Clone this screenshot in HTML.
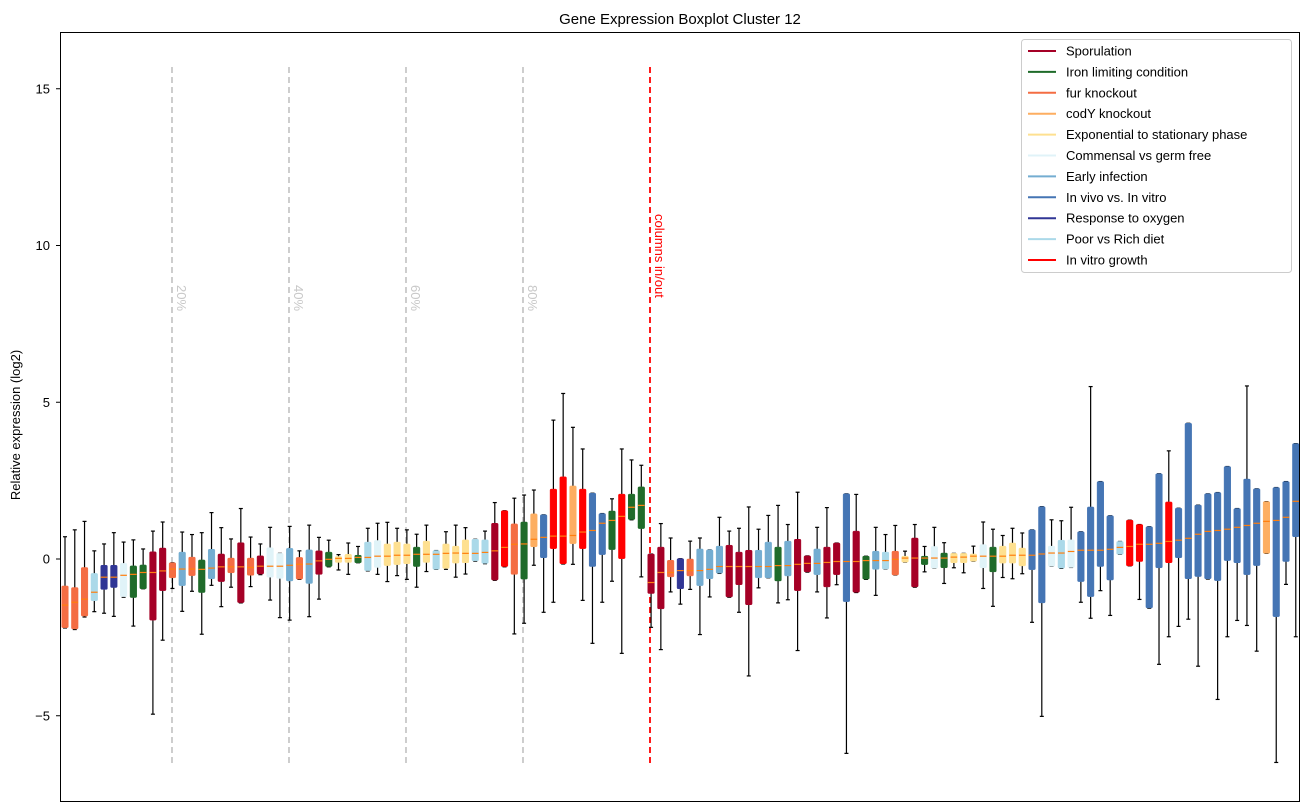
<!DOCTYPE html>
<html><head><meta charset="utf-8"><style>
body{margin:0;background:#fff;}
svg{display:block;font-family:"Liberation Sans","DejaVu Sans",sans-serif;}
</style></head><body>
<svg id="chart" width="1309" height="812" xmlns="http://www.w3.org/2000/svg">
<rect x="0" y="0" width="1309" height="812" fill="#fff"/>
<text x="680" y="24" text-anchor="middle" font-size="15">Gene Expression Boxplot Cluster 12</text>
<text transform="translate(20,425) rotate(-90)" text-anchor="middle" font-size="13">Relative expression (log2)</text>
<g id="marks"></g>
<rect x="60.5" y="32.5" width="1239" height="769" fill="none" stroke="#000" stroke-width="1"/>
<g id="axis"></g>
<g id="legend"></g>
</svg>
<script>
const groupNames=["Sporulation","Iron limiting condition","fur knockout","codY knockout","Exponential to stationary phase","Commensal vs germ free","Early infection","In vivo vs. In vitro","Response to oxygen","Poor vs Rich diet","In vitro growth"];
const groupColors=["#a50026","#1f6b2a","#f46d43","#fdae61","#fee090","#e0f3f8","#74add1","#4575b4","#313695","#abd9e9","#ff0000"];
const yTicks=[15,10,5,0,-5];
const pctLines=[20,40,60,80];
// categories: box group index per box (S=0,I=1,F=2,C=3,E=4,M=5,A=6,V=7,O=8,P=9,R=10)
const boxCat=[2,2,2,9,8,8,5,1,1,0,0,2,6,2,1,6,0,2,0,2,
0,5,5,6,2,6,0,1,4,4,1,9,5,4,4,4,1,4,9,4,
4,4,9,9,0,10,2,1,3,7,10,10,3,10,7,7,1,10,1,1,
0,0,2,8,2,6,6,6,0,0,0,6,6,1,6,0,0,6,0,0,
7,0,1,6,9,2,4,0,1,5,1,4,4,4,5,1,4,4,4,7,
7,5,9,5,7,7,7,7,9,10,10,7,7,10,7,7,7,7,7,7,
7,7,7,3,7,7,7];
const whiskerHigh=[0.71,0.93,1.20,0.26,0.48,0.84,0.54,0.61,0.32,0.89,1.18,-0.12,0.86,0.78,0.84,1.48,1.00,0.64,1.61,0.70,
0.48,1.01,0.18,1.04,0.26,1.08,0.69,0.60,0.14,0.51,0.40,0.98,1.14,1.17,0.98,0.93,0.79,1.08,0.27,0.87,
1.08,1.00,0.63,0.89,1.80,1.54,1.94,2.04,2.20,1.41,4.43,5.28,4.20,3.51,2.10,1.45,1.92,3.51,3.16,2.99,
0.16,1.13,0.67,0.01,0.57,0.67,0.29,1.33,0.89,0.98,1.66,0.95,1.39,1.71,1.10,2.13,0.10,1.01,1.64,0.51,
2.08,2.06,0.09,1.01,0.78,1.07,0.25,1.10,0.40,1.01,0.52,0.18,0.18,0.41,1.18,0.95,0.75,0.98,0.83,0.93,
1.67,1.25,1.22,1.65,0.87,5.50,2.47,1.38,0.56,1.24,1.10,1.03,2.72,3.45,1.62,4.33,1.72,2.08,2.12,2.95,
1.61,5.52,2.24,1.83,2.28,2.47,3.68];
const q3=[-0.86,-0.91,-0.27,-0.46,-0.20,-0.20,-0.14,-0.22,-0.19,0.23,0.35,-0.12,0.22,0.06,-0.03,0.31,0.16,0.03,0.52,0.03,
0.10,0.36,0.18,0.34,0.05,0.29,0.26,0.22,0.08,0.15,0.12,0.54,0.59,0.48,0.54,0.48,0.38,0.57,0.27,0.48,
0.41,0.61,0.63,0.61,1.14,1.54,1.12,1.18,1.44,1.41,2.23,2.62,2.33,2.23,2.10,1.45,1.53,2.07,2.07,2.30,
0.16,0.38,-0.04,0.01,0.00,0.32,0.29,0.41,0.44,0.22,0.28,0.28,0.54,0.38,0.57,0.63,0.10,0.32,0.38,0.51,
2.08,0.89,0.09,0.25,0.22,0.25,0.09,0.67,0.09,0.40,0.19,0.18,0.18,0.16,0.46,0.38,0.41,0.51,0.35,0.93,
1.67,0.41,0.60,0.61,0.87,1.66,2.47,1.38,0.56,1.24,1.10,1.03,2.72,1.82,1.62,4.33,1.72,2.08,2.12,2.95,
1.61,2.55,2.24,1.83,2.28,2.47,3.68];
const medians=[-1.47,-1.38,-1.28,-1.06,-0.58,-0.58,-0.52,-0.49,-0.43,-0.43,-0.38,-0.32,-0.32,-0.32,-0.33,-0.29,-0.25,-0.25,-0.25,-0.27,
-0.23,-0.23,-0.23,-0.20,-0.17,-0.16,-0.06,-0.01,0.02,0.02,0.05,0.05,0.09,0.09,0.12,0.12,0.15,0.15,0.15,0.18,
0.19,0.18,0.18,0.21,0.26,0.37,0.47,0.48,0.63,0.69,0.73,0.73,0.75,0.86,0.91,1.14,1.23,1.36,1.65,1.71,
-0.75,-0.43,-0.43,-0.37,-0.37,-0.37,-0.33,-0.24,-0.24,-0.24,-0.24,-0.24,-0.24,-0.21,-0.21,-0.17,-0.14,-0.14,-0.11,-0.08,
-0.08,-0.08,-0.05,-0.05,-0.05,-0.01,0.03,0.03,0.03,0.03,0.03,0.06,0.06,0.09,0.09,0.09,0.09,0.12,0.12,0.12,
0.16,0.19,0.19,0.24,0.28,0.28,0.28,0.31,0.37,0.40,0.47,0.47,0.50,0.56,0.60,0.66,0.79,0.88,0.91,0.95,
1.01,1.07,1.14,1.20,1.23,1.33,1.84];
const q1=[-2.19,-2.23,-1.82,-1.33,-0.97,-0.91,-1.20,-1.23,-0.95,-1.95,-1.01,-0.60,-0.85,-0.53,-1.07,-0.63,-0.72,-0.44,-1.39,-0.52,
-0.48,-0.58,-0.62,-0.70,-0.64,-0.78,-0.49,-0.24,-0.11,-0.11,-0.12,-0.37,-0.27,-0.21,-0.18,-0.15,-0.24,-0.11,-0.33,-0.30,
-0.13,-0.12,-0.06,-0.14,-0.67,-0.24,-0.49,-0.64,0.39,0.04,0.33,-0.15,0.49,0.33,-0.24,0.14,0.30,0.01,1.26,0.97,
-1.10,-1.59,-0.57,-0.95,-0.54,-0.85,-0.63,-0.45,-1.21,-0.82,-1.46,-0.60,-0.60,-0.70,-0.54,-1.01,-0.41,-0.50,-0.89,-0.50,
-1.36,-1.06,-0.64,-0.33,-0.32,-0.51,-0.10,-0.89,-0.18,-0.29,-0.28,-0.12,-0.12,-0.07,-0.28,-0.41,-0.13,-0.13,-0.22,-0.34,
-1.40,-0.23,-0.29,-0.27,-0.72,-1.20,-0.24,-0.67,0.15,-0.22,-0.08,-1.56,-0.28,-0.12,0.04,-0.63,-0.56,-0.63,-0.69,-0.05,
-0.12,-0.50,-0.21,0.18,-1.84,-0.08,0.71];
const whiskerLow=[-2.20,-2.25,-1.85,-1.68,-1.73,-1.83,-1.22,-2.14,-0.95,-4.95,-2.59,-0.94,-1.67,-1.03,-2.40,-0.84,-1.52,-0.90,-1.40,-0.88,
-0.50,-1.31,-1.87,-1.95,-0.65,-1.84,-1.28,-0.25,-0.35,-0.49,-0.12,-0.38,-0.49,-0.72,-0.53,-0.65,-0.90,-0.40,-0.33,-0.33,
-0.58,-0.48,-0.07,-0.15,-0.68,-0.25,-2.39,-2.05,-0.20,-1.70,-1.38,-0.16,-0.17,-1.32,-2.69,-1.38,-0.71,-3.01,1.25,-0.57,
-2.18,-2.89,-1.05,-1.44,-0.97,-2.41,-1.21,-0.46,-1.22,-1.70,-3.73,-0.92,-0.60,-1.40,-1.30,-2.92,-0.42,-1.05,-1.88,-0.82,
-6.20,-1.07,-0.65,-1.16,-0.32,-0.51,-0.10,-0.90,-0.41,-0.29,-0.78,-0.28,-0.44,-0.07,-0.94,-1.51,-0.59,-0.63,-0.47,-2.02,
-5.02,-0.23,-0.30,-0.27,-1.38,-1.89,-1.01,-1.80,0.15,-0.22,-1.29,-1.57,-3.36,-2.48,-2.15,-1.92,-3.42,-0.64,-4.48,-2.48,
-1.96,-2.12,-2.94,0.18,-6.49,-0.81,-2.48];

const NS="http://www.w3.org/2000/svg";
const X0=65, DX=9.768;
function xPos(i){return X0+i*DX;}
function yPos(v){return 559-v*31.35;}
function pctX(p){return 55+p*5.85;}
function mk(tag,attrs,parent){const e=document.createElementNS(NS,tag);for(const k in attrs)e.setAttribute(k,attrs[k]);parent.appendChild(e);return e;}

const marks=document.getElementById('marks');
pctLines.forEach(p=>{
  const lx=pctX(p);
  const g=mk('g',{},marks);
  
  
  mk('line',{x1:lx,x2:lx,y1:67,y2:766,stroke:'#c8c8c8','stroke-width':1.8,'stroke-dasharray':'6,4'},g);
  const t=mk('text',{transform:`translate(${lx+5},285) rotate(90)`,'font-size':13,fill:'#c8c8c8'},g);
  t.textContent=p+'%';
});
{
  const lx=650;
  const g=mk('g',{},marks);
  
  
  mk('line',{x1:lx,x2:lx,y1:67,y2:766,stroke:'#ff0000','stroke-width':1.8,'stroke-dasharray':'6,4'},g);
  const t=mk('text',{transform:`translate(${lx+5},214) rotate(90)`,'font-size':13,fill:'#ff0000'},g);
  t.textContent='columns in/out';
}
for(let i=0;i<medians.length;i++){
  const x=xPos(i), c=groupColors[boxCat[i]];
  const g=mk('g',{},marks);
  
  
  const yh=yPos(whiskerHigh[i]), y3=yPos(q3[i]), y1=yPos(q1[i]), yl=yPos(whiskerLow[i]);
  mk('line',{x1:x,x2:x,y1:yh,y2:y3,stroke:'#000','stroke-width':1.2},g);
  mk('line',{x1:x,x2:x,y1:y1,y2:yl,stroke:'#000','stroke-width':1.2},g);
  mk('line',{x1:x-2,x2:x+2,y1:yh,y2:yh,stroke:'#000','stroke-width':1.2},g);
  mk('line',{x1:x-2,x2:x+2,y1:yl,y2:yl,stroke:'#000','stroke-width':1.2},g);
  mk('rect',{x:x-3.3,y:y3,width:6.6,height:Math.max(1,y1-y3),fill:c,stroke:c,'stroke-width':0.5,rx:1},g);
  const ym=yPos(medians[i]);
  mk('line',{x1:x-3.3,x2:x+3.3,y1:ym,y2:ym,stroke:'#ff7f0e','stroke-width':1.2},g);
}
const ax=document.getElementById('axis');
yTicks.forEach(v=>{
  const y=yPos(v);
  const g=mk('g',{},ax);
  
  
  mk('line',{x1:56,x2:60.5,y1:y,y2:y,stroke:'#000','stroke-width':1},g);
  const t=mk('text',{x:50,y:y+4.5,'text-anchor':'end','font-size':13},g);
  t.textContent=v<0?'\u2212'+Math.abs(v):String(v);
});
const lg=document.getElementById('legend');
const lr=mk('rect',{x:1021.5,y:39.5,width:270,height:233,fill:'#fff',stroke:'#ccc','stroke-width':1,rx:3},lg);


groupNames.forEach((n,k)=>{
  const y=51+k*20.9;
  const g=mk('g',{},lg);
  
  
  mk('line',{x1:1028,x2:1056,y1:y,y2:y,stroke:groupColors[k],'stroke-width':2},g);
  const t=mk('text',{x:1066,y:y+4.5,'font-size':13},g);
  t.textContent=n;
});
</script>
</body></html>
